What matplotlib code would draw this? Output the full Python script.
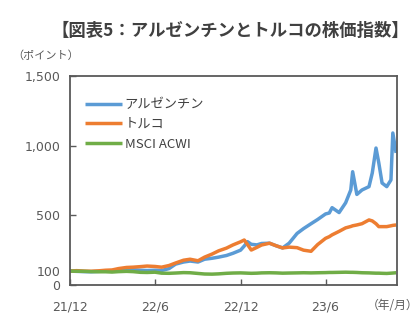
import matplotlib
matplotlib.use('Agg')
import matplotlib.pyplot as plt
import pandas as pd

plt.rcParams['font.family'] = ['Noto Sans CJK JP', 'DejaVu Sans']

# index values, Dec 2021 = 100
dates = ['2021-12-01', '2021-12-15', '2022-01-01', '2022-01-15', '2022-02-01', '2022-02-15',
         '2022-03-01', '2022-03-15', '2022-04-01', '2022-04-15', '2022-05-01', '2022-05-15',
         '2022-06-01', '2022-06-15', '2022-07-01', '2022-07-15', '2022-08-01', '2022-08-15',
         '2022-09-01', '2022-09-15', '2022-10-01', '2022-10-15', '2022-11-01', '2022-11-15',
         '2022-12-01', '2022-12-09', '2022-12-16', '2022-12-24', '2023-01-05', '2023-01-15',
         '2023-02-01', '2023-02-15', '2023-03-01', '2023-03-15', '2023-04-01', '2023-04-15',
         '2023-05-01', '2023-05-15', '2023-06-01', '2023-06-09', '2023-06-15', '2023-06-30',
         '2023-07-14', '2023-07-25', '2023-07-29', '2023-08-07', '2023-08-18', '2023-09-02',
         '2023-09-09', '2023-09-17', '2023-09-23', '2023-09-30', '2023-10-10', '2023-10-19',
         '2023-10-23', '2023-10-30']
argentina = [100, 98, 96, 95, 98, 100,
             102, 108, 112, 110, 106, 104,
             106, 104, 118, 150, 165, 172,
             165, 185, 192, 200, 212, 228,
             250, 280, 311, 292, 288, 298,
             300, 282, 266, 300, 370, 405,
             440, 470, 510, 517, 555, 520,
             590, 682, 813, 650, 682, 706,
             804, 983, 876, 732, 706, 754,
             1091, 948]
turkey = [100, 103, 100, 99, 102, 106,
          108, 118, 126, 128, 132, 136,
          133, 128, 140, 158, 178, 185,
          174, 200, 222, 245, 265, 288,
          310, 323, 290, 251, 270, 287,
          300, 282, 266, 272, 268, 250,
          242, 290, 335, 347, 360, 385,
          410, 420, 425, 431, 440, 467,
          460, 440, 419, 419, 419, 425,
          428, 431]
msci = [100, 99, 98, 96, 95, 95,
        93, 96, 98, 96, 91, 90,
        92, 85, 84, 86, 89, 88,
        83, 79, 78, 80, 84, 86,
        87, 86, 85, 84, 85, 87,
        88, 87, 85, 86, 87, 88,
        87, 88, 89, 90, 90, 91,
        92, 91, 91, 90, 88, 87,
        86, 85, 85, 84, 83, 85,
        86, 88]

series_names = ['アルゼンチン', 'トルコ', 'MSCI ACWI']
series_colors = ['#5B9BD5', '#ED7D31', '#70AD47']

x_ticks = ['2021-12-01', '2022-06-01', '2022-12-01', '2023-06-01']
x_labels = ['21/12', '22/6', '22/12', '23/6']
y_ticks = [0, 100, 500, 1000, 1500]
y_labels = ['0', '100', '500', '1,000', '1,500']

x = pd.to_datetime(dates)
gray = '#595959'

fig = plt.figure(figsize=(4.2, 3.27), dpi=100)
ax = fig.add_axes([0.1667, 0.1284, 0.7786, 0.6392])

for vals, name, col in zip([argentina, turkey, msci], series_names, series_colors):
    ax.plot(x, vals, color=col, lw=2.5, label=name, solid_capstyle='butt')

ax.set_xlim(pd.Timestamp('2021-12-01'), pd.Timestamp('2023-11-01'))
ax.set_ylim(0, 1500)
ax.set_xticks(pd.to_datetime(x_ticks))
ax.set_xticklabels(x_labels, fontfamily='DejaVu Sans')
ax.set_yticks(y_ticks)
ax.set_yticklabels(y_labels, fontfamily='DejaVu Sans')
ax.tick_params(direction='in', length=4, width=1, colors=gray, labelsize=9, labelcolor=gray)
ax.tick_params(axis='x', pad=11)
ax.tick_params(axis='y', pad=7)
for s in ax.spines.values():
    s.set_color(gray)
    s.set_linewidth(1.3)

leg = ax.legend(loc='upper left', bbox_to_anchor=(0.01, 0.95), frameon=False,
                handlelength=2.8, handletextpad=0.2, labelspacing=0.5, fontsize=9.5)
for t in leg.get_texts():
    t.set_color('#404040')

fig.text(0.548, 0.905, '【図表5：アルゼンチンとトルコの株価指数】', ha='center', va='center',
         fontsize=12.5, fontweight='bold', color='#404040')
fig.text(0.03, 0.83, '（ポイント）', ha='left', va='center', fontsize=8, color=gray)
fig.text(0.995, 0.067, '（年/月）', ha='right', va='center', fontsize=8.5, color=gray)

fig.savefig('out.png', dpi=100)
